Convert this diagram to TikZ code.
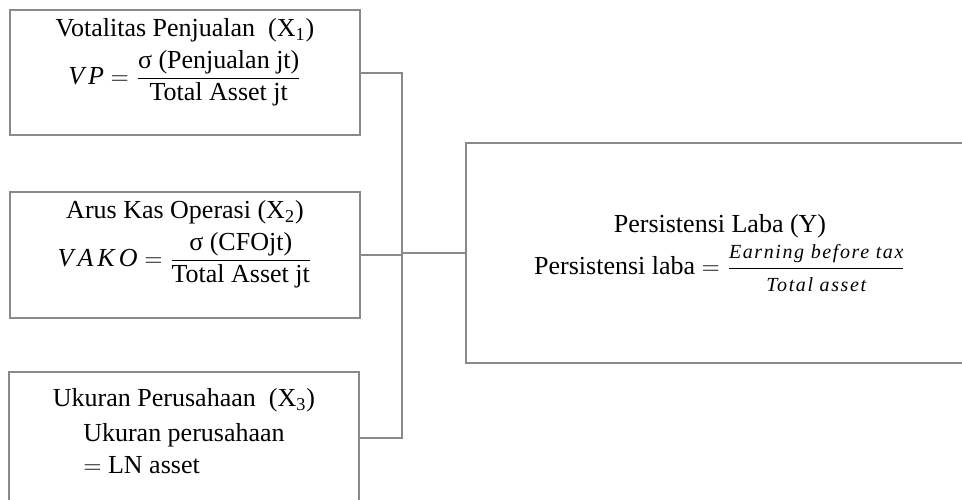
\documentclass[tikz,border=0pt]{standalone}
\usepackage{amsmath}
\usepackage{fontspec}
\setmainfont{Liberation Serif}
\newfontfamily\fracfont[LetterSpace=8]{Liberation Serif}
\usetikzlibrary{positioning}
\definecolor{boxgray}{RGB}{138,138,138}

\begin{document}
\begin{tikzpicture}
  [x=0.5pt,y=-0.5pt,
   font=\fontsize{13}{15.6}\selectfont,
   varBox/.style={draw=boxgray,line width=1pt,minimum width=175pt,minimum height=63pt,inner sep=0pt},
   depBox/.style={varBox,minimum width=254pt,minimum height=110pt,align=center},
   boxText/.style={align=center,inner sep=0pt},
   conn/.style={draw=boxgray,line width=1pt},
  ]
 \useasboundingbox (0,0) rectangle (962,499);

 \node[varBox,minimum height=62.5pt] (vp)   at (185,72.5) {};
 \node[varBox]                       (vako) at (185,255) {};
 \node[varBox,minimum height=66pt]   (uk)   at (184,438) {};
 \node[depBox] (pl) at (720,253)
   {Persistensi Laba (Y)\\[2pt]
    Persistensi laba $=\dfrac{\text{\fracfont\fontsize{10}{11}\selectfont\itshape Earning before tax}}
                              {\text{\fracfont\fontsize{10}{11}\selectfont\itshape Total asset}}$};

 \node[boxText] (vptext) [below=4.5pt of vp.north]
   {Votalitas Penjualan \ (X\textsubscript{1})\\[3pt]
    $\mathit{V\,P} = \dfrac{\text{σ (Penjualan jt)}\rule[-3pt]{0pt}{0pt}}{\text{Total Asset jt}}$};
 \node[boxText] (vakotext) [below=4.5pt of vako.north]
   {Arus Kas Operasi (X\textsubscript{2})\\[3pt]
    $\mathit{V\,A\,K\,O} = \dfrac{\text{σ (CFOjt)}\rule[-3pt]{0pt}{0pt}}{\text{Total Asset jt}}$};
 \node[boxText] (uktext) [below=8.5pt of uk.north]
   {Ukuran Perusahaan \ (X\textsubscript{3})\\[3pt]
    \begin{tabular}{@{}l@{}}Ukuran perusahaan\\ $=$ LN asset\end{tabular}};

 \coordinate (bus) at (402,253);
 \draw[conn] (vp.east) -| (bus);
 \draw[conn] (uk.east) -| (bus);
 \draw[conn] (vako.east) -- (vako.east -| bus);
 \draw[conn] (bus) -- (pl.west);

\end{tikzpicture}
\end{document}
